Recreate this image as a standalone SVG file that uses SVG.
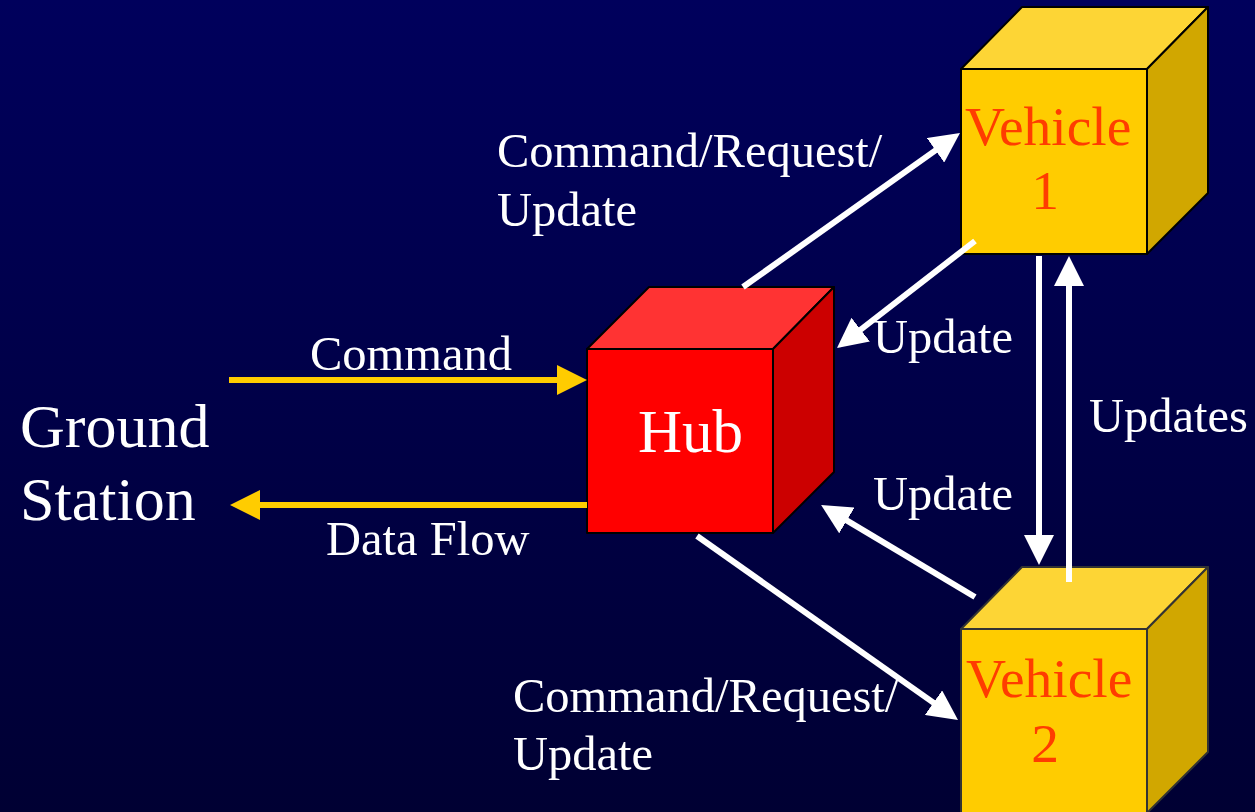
<svg xmlns="http://www.w3.org/2000/svg" width="1255" height="812" viewBox="0 0 1255 812">
<defs>
<linearGradient id="bg" x1="0" y1="0" x2="0" y2="1">
<stop offset="0" stop-color="#00005c"/>
<stop offset="1" stop-color="#000033"/>
</linearGradient>
<marker id="aw" viewBox="0 0 30 30" refX="12" refY="15" markerWidth="30" markerHeight="30" markerUnits="userSpaceOnUse" orient="auto">
<path d="M0,0 L30,15 L0,30 z" fill="#ffffff"/>
</marker>
<marker id="ay" viewBox="0 0 30 30" refX="12" refY="15" markerWidth="30" markerHeight="30" markerUnits="userSpaceOnUse" orient="auto">
<path d="M0,0 L30,15 L0,30 z" fill="#ffcc00"/>
</marker>
<style>
.t{font-family:"Liberation Serif","Times New Roman",serif;fill:#ffffff;font-size:48.5px}
.big{font-size:62px}
.vt{font-family:"Liberation Serif","Times New Roman",serif;fill:#ff3c00;font-size:55.5px}
.w{stroke:#ffffff;stroke-width:6;fill:none;marker-end:url(#aw)}
.y{stroke:#ffcc00;stroke-width:6;fill:none;marker-end:url(#ay)}
.hub path{stroke:#000000;stroke-width:2;stroke-linejoin:round}
.veh path{stroke:#000000;stroke-width:2;stroke-linejoin:round}
</style>
</defs>
<rect width="1255" height="812" fill="url(#bg)"/>

<g id="hub" class="hub">
<path d="M587,349 L649,287 L834,287 L773,349 Z" fill="#ff3333"/>
<path d="M773,349 L834,287 L834,472 L773,533 Z" fill="#cc0000"/>
<path d="M587,349 L773,349 L773,533 L587,533 Z" fill="#ff0000"/>
<text class="t big" x="638" y="452" style="font-size:61px">Hub</text>
</g>

<g id="vehicle1" class="veh">
<path d="M961,69 L1022,7 L1208,7 L1147,69 Z" fill="#fdd535"/>
<path d="M1147,69 L1208,7 L1208,193 L1147,254 Z" fill="#d1a700"/>
<path d="M961,69 L1147,69 L1147,254 L961,254 Z" fill="#ffcc00"/>
<text class="vt" x="965" y="145">Vehicle</text>
<text class="vt" x="1045" y="209" text-anchor="middle">1</text>
</g>

<g id="vehicle2" class="veh">
<path d="M961,629 L1022,567 L1208,567 L1147,629 Z" fill="#fdd535" style="stroke:#333333"/>
<path d="M1147,629 L1208,567 L1208,752 L1147,813 Z" fill="#d1a700" style="stroke:#333333"/>
<path d="M961,629 L1147,629 L1147,813 L961,813 Z" fill="#ffcc00" style="stroke:#333333"/>
<text class="vt" x="966" y="697">Vehicle</text>
<text class="vt" x="1045" y="762" text-anchor="middle">2</text>
</g>

<g id="ground-station">
<text class="t big" x="20" y="447">Ground</text>
<text class="t big" x="20" y="520">Station</text>
</g>

<g id="connectors">
<line class="y" x1="229" y1="380" x2="569" y2="380"/>
<line class="y" x1="587" y1="505" x2="248" y2="505"/>
<line class="w" x1="743" y1="287" x2="945.3" y2="143.4"/>
<line class="w" x1="975" y1="241" x2="851.2" y2="337"/>
<line class="w" x1="697" y1="536" x2="943.3" y2="709.6"/>
<line class="w" x1="975" y1="597" x2="836.6" y2="514.3"/>
<line class="w" x1="1039" y1="256" x2="1039" y2="547"/>
<line class="w" x1="1069" y1="582" x2="1069" y2="274"/>
</g>

<g id="labels">
<text class="t" x="310" y="370">Command</text>
<text class="t" x="326" y="555">Data Flow</text>
<text class="t" x="497" y="167">Command/Request/</text>
<text class="t" x="497" y="226">Update</text>
<text class="t" x="513" y="712">Command/Request/</text>
<text class="t" x="513" y="770">Update</text>
<text class="t" x="873" y="353">Update</text>
<text class="t" x="873" y="510">Update</text>
<text class="t" x="1089" y="432">Updates</text>
</g>
</svg>
